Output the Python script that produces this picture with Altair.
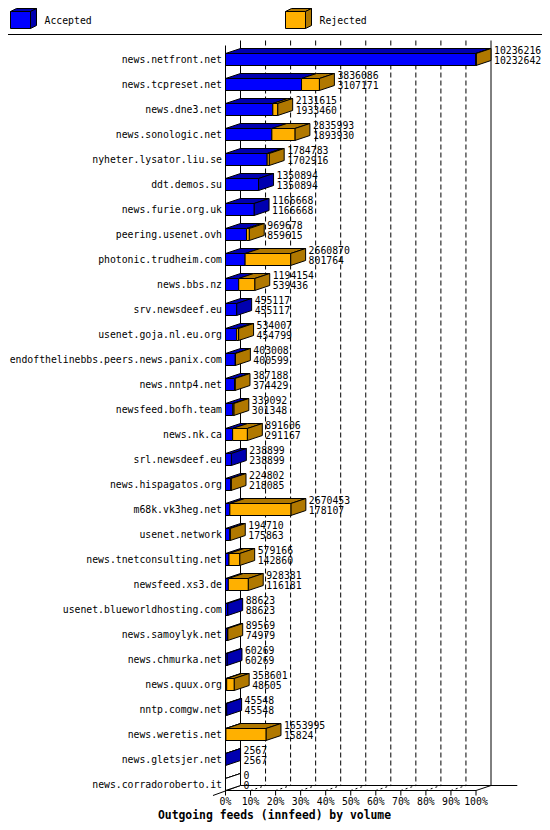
import altair as alt
import pandas as pd

HOSTS = ["news.netfront.net", "news.tcpreset.net", "news.dne3.net", "news.sonologic.net",
         "nyheter.lysator.liu.se", "ddt.demos.su", "news.furie.org.uk", "peering.usenet.ovh",
         "photonic.trudheim.com", "news.bbs.nz", "srv.newsdeef.eu", "usenet.goja.nl.eu.org",
         "endofthelinebbs.peers.news.panix.com", "news.nntp4.net", "newsfeed.bofh.team", "news.nk.ca",
         "srl.newsdeef.eu", "news.hispagatos.org", "m68k.vk3heg.net", "usenet.network",
         "news.tnetconsulting.net", "newsfeed.xs3.de", "usenet.blueworldhosting.com", "news.samoylyk.net",
         "news.chmurka.net", "news.quux.org", "nntp.comgw.net", "news.weretis.net", "news.gletsjer.net",
         "news.corradoroberto.it"]
OFFERED = [10236216, 3836086, 2131615, 2835993, 1784783, 1350894, 1166668, 969678, 2660870, 1194154,
           455117, 534007, 403008, 387188, 339092, 891606, 238899, 224802, 2670453, 194710,
           579166, 928381, 88623, 89569, 60269, 353601, 45548, 1653995, 2567, 0]
ACCEPTED = [10232642, 3107171, 1933460, 1893930, 1702916, 1350894, 1166668, 859615, 801764, 539436,
            455117, 454799, 400599, 374429, 301348, 291167, 238899, 218085, 178107, 175863,
            142860, 116181, 88623, 74979, 60269, 48605, 45548, 15824, 2567, 0]
PCT_TICKS = [0, 10, 20, 30, 40, 50, 60, 70, 80, 90, 100]
TICK_LABELS = ["0%", "10%", "20%", "30%", "40%", "50%", "60%", "70%", "80%", "90%", "100%"]
LEGEND_LABELS = ["Accepted", "Rejected"]
TITLE = "Outgoing feeds (innfeed) by volume"

FONT = "DejaVu Sans Mono"
FS = 9.8
BLUE, BLUE_DARK = "#0000FF", "#0000B0"
ORANGE, ORANGE_DARK = "#FFB000", "#B07800"

X0_PX, X100_PX = 225.5, 476.0
PX_PER_PCT = (X100_PX - X0_PX) / 100
MAXV = max(OFFERED)
DEPTH_X = 15 / PX_PER_PCT   # 15 px of depth, in percent units
H = 6 / 25                  # half height of the front face, in rows
DY = 5 / 25                 # 5 px of depth, in rows

top_rows, side_rows, front_rows, lab_rows = [], [], [], []
for i, (h, t_raw, a_raw) in enumerate(zip(HOSTS, OFFERED, ACCEPTED)):
    a = a_raw / MAXV * 100
    t = t_raw / MAXV * 100
    segs = []
    if a > 0:
        segs.append((0, a, BLUE, BLUE_DARK))
    if t > a:
        segs.append((a, t, ORANGE, ORANGE_DARK))
    if not segs:
        segs.append((0, 0, "white", "white"))
    for k, (s, e, c, d) in enumerate(segs):
        fid = f"{i}-{k}"
        top_rows.append({"id": fid, "y": i - H, "x": s, "x2": e, "c": d})
        top_rows.append({"id": fid, "y": i - H - DY, "x": s + DEPTH_X, "x2": e + DEPTH_X, "c": d})
        front_rows.append({"x": s, "x2": e, "y": i - H, "y2": i + H, "c": c})
    sc = segs[-1][3]
    side_rows.append({"id": i, "x": t, "y": i - H, "y2": i + H, "c": sc})
    side_rows.append({"id": i, "x": t + DEPTH_X, "y": i - H - DY, "y2": i + H - DY, "c": sc})
    lab_rows.append({"row": i, "host": h, "x0": 0, "xl": t + DEPTH_X,
                     "top": str(t_raw), "bot": str(a_raw)})

top_df = pd.DataFrame(top_rows)
side_df = pd.DataFrame(side_rows)
front_df = pd.DataFrame(front_rows)
lab_df = pd.DataFrame(lab_rows)
tick_df = pd.DataFrame({"p": PCT_TICKS, "lab": TICK_LABELS})
grid_df = pd.DataFrame({"g": PCT_TICKS[1:-1]})
grid_df["gx"] = grid_df["g"] + DEPTH_X
grid_df["gx2"] = grid_df["gx"]
back_df = pd.DataFrame({"bx": [DEPTH_X, 100 + DEPTH_X]})
# floor / frame segments in scale units: (x, x2, y_px, y2_px)
frame_df = pd.DataFrame([
    {"x": 0, "x2": 100, "y": 790.5, "y2": 790.5},                          # front bottom
    {"x": DEPTH_X, "x2": 100 + DEPTH_X + 10.5, "y": 785.5, "y2": 785.5},   # back bottom
    {"x": -5, "x2": DEPTH_X, "y": 795.5, "y2": 785.5},                     # left diagonal
    {"x": 100, "x2": 100 + DEPTH_X, "y": 790.5, "y2": 785.5},              # right diagonal
])
one = pd.DataFrame({"z": [0]})

XS = alt.Scale(domain=[0, 100], range=[X0_PX, X100_PX], nice=False, zero=False)
YS = alt.Scale(domain=[0, len(HOSTS) - 1], range=[59.5, 784.5], nice=False, zero=False)
PXS = alt.Scale(domain=[0, 830], range=[0, 830], nice=False, zero=False)


def X(f):
    return alt.X(f"{f}:Q", scale=XS, axis=None, stack=None)


def Y(f):
    return alt.Y(f"{f}:Q", scale=YS, axis=None, stack=None)


grid = alt.Chart(grid_df).mark_rule(color="black", strokeDash=[5, 3], strokeWidth=1).encode(
    x=X("gx"), y=alt.value(40.5), y2=alt.value(785.5))
back = alt.Chart(back_df).mark_rule(color="black", strokeWidth=1).encode(
    x=X("bx"), y=alt.value(40.5), y2=alt.value(785.5))
front_line = alt.Chart(one).mark_rule(color="black", strokeWidth=1).encode(
    x=X("z"), y=alt.value(45.5), y2=alt.value(790.5))
floor_ticks = alt.Chart(grid_df).mark_rule(color="black", strokeDash=[2, 3], strokeWidth=1).encode(
    x=X("g"), x2=alt.X2("gx:Q"), y=alt.value(790.5), y2=alt.value(785.5))
frame_layers = []
for _, r in frame_df.iterrows():
    frame_layers.append(alt.Chart(pd.DataFrame([r])).mark_rule(color="black", strokeWidth=1).encode(
        x=X("x"), x2=alt.X2("x2:Q"), y=alt.value(r["y"]), y2=alt.value(r["y2"])))
ticks = alt.Chart(tick_df).mark_rule(color="black", strokeWidth=1).encode(
    x=X("p"), y=alt.value(790.5), y2=alt.value(795.5))
tick_text = alt.Chart(tick_df).mark_text(align="center", baseline="middle", font=FONT,
                                         fontSize=FS, color="black").encode(
    x=X("p"), y=alt.value(801.5), text="lab:N")

tops = alt.Chart(top_df).mark_area(orient="horizontal", stroke="black", strokeWidth=1,
                                   opacity=1, fillOpacity=1, interpolate="linear").encode(
    x=X("x"), x2=alt.X2("x2:Q"), y=Y("y"), detail="id:N", fill=alt.Fill("c:N", scale=None))
sides = alt.Chart(side_df).mark_area(orient="vertical", stroke="black", strokeWidth=1,
                                     opacity=1, fillOpacity=1, interpolate="linear").encode(
    x=X("x"), y=Y("y"), y2=alt.Y2("y2:Q"), detail="id:N", fill=alt.Fill("c:N", scale=None))
fronts = alt.Chart(front_df).mark_rect(stroke="black", strokeWidth=1, opacity=1).encode(
    x=X("x"), x2=alt.X2("x2:Q"), y=Y("y"), y2=alt.Y2("y2:Q"), fill=alt.Fill("c:N", scale=None))

hosts = alt.Chart(lab_df).mark_text(align="right", baseline="middle", dx=-3.5, font=FONT,
                                    fontSize=FS, color="black").encode(
    x=X("x0"), y=Y("row"), text="host:N")
num_top = alt.Chart(lab_df).mark_text(align="left", baseline="middle", dx=3, dy=-8.5, font=FONT,
                                      fontSize=FS, color="black").encode(
    x=X("xl"), y=Y("row"), text="top:N")
num_bot = alt.Chart(lab_df).mark_text(align="left", baseline="middle", dx=3, dy=1.5, font=FONT,
                                      fontSize=FS, color="black").encode(
    x=X("xl"), y=Y("row"), text="bot:N")

FRONT_P = "M0,0L20,0L20,17L0,17Z"
TOP_P = "M0,0L6,-3L26,-3L20,0Z"
SIDE_P = "M20,0L26,-3L26,14L20,17Z"
legend_layers = []
for lab, (front_c, dark_c), lx, tx in zip(LEGEND_LABELS, [(BLUE, BLUE_DARK), (ORANGE, ORANGE_DARK)],
                                          [10.5, 285.5], [44.5, 319.5]):
    cube_df = pd.DataFrame({"p": [TOP_P, SIDE_P, FRONT_P], "c": [dark_c, dark_c, front_c]})
    legend_layers.append(alt.Chart(cube_df).mark_point(
        filled=True, size=4, stroke="black", strokeWidth=1, opacity=1, fillOpacity=1,
        strokeOpacity=1).encode(
        x=alt.value(lx), y=alt.value(11.5), shape=alt.Shape("p:N", scale=None),
        fill=alt.Fill("c:N", scale=None)))
    legend_layers.append(alt.Chart(pd.DataFrame({"t": [lab]})).mark_text(
        align="left", baseline="middle", font=FONT, fontSize=FS, color="black").encode(
        x=alt.value(tx), y=alt.value(20.5), text="t:N"))

separator = alt.Chart(one).mark_rule(color="black", strokeWidth=1).encode(
    x=alt.value(0), x2=alt.value(550), y=alt.value(34.5))
title = alt.Chart(pd.DataFrame({"t": [TITLE]})).mark_text(
    align="center", baseline="middle", font=FONT, fontSize=11.4, fontWeight="bold",
    color="black").encode(x=alt.value(274.5), y=alt.value(815.5), text="t:N")

chart = alt.layer(
    grid, back, *frame_layers, floor_ticks, front_line, ticks, tick_text,
    tops, sides, fronts, hosts, num_top, num_bot, *legend_layers,
    separator, title
).properties(
    width=550, height=830,
    autosize=alt.AutoSizeParams(type="none"),
    padding={"left": -8, "top": -8, "right": -8, "bottom": -8},
    background="white",
).configure_view(stroke=None)

chart.save("out.html", embed_options={"renderer": "svg", "actions": False})
